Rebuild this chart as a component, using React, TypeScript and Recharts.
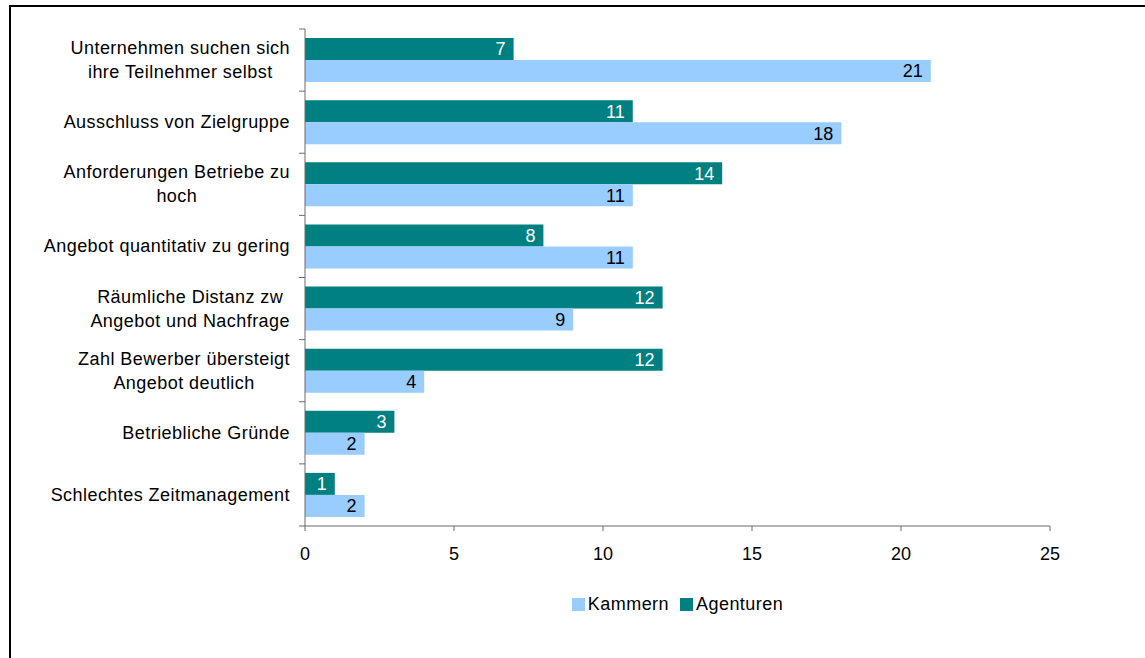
import React from "react";
import { BarChart, Bar, XAxis, YAxis, Legend, LabelList } from "recharts";

const categories = [
  "Unternehmen suchen sich\nihre Teilnehmer selbst",
  "Ausschluss von Zielgruppe",
  "Anforderungen Betriebe zu\nhoch",
  "Angebot quantitativ zu gering",
  "Räumliche Distanz zw\nAngebot und Nachfrage",
  "Zahl Bewerber übersteigt\nAngebot deutlich",
  "Betriebliche Gründe",
  "Schlechtes Zeitmanagement",
];
const agenturen = [7, 11, 14, 8, 12, 12, 3, 1];
const kammern = [21, 18, 11, 11, 9, 4, 2, 2];
const xTicks = [0, 5, 10, 15, 20, 25];

const FONT = "'Liberation Sans', Arial, sans-serif";
const FS = 18;
const LS = 0.45;
const AXIS = "#6b6b6b";
const TICK_GAP = 15;

const data = categories.map((c, i) => ({
  name: c,
  Agenturen: agenturen[i],
  Kammern: kammern[i],
}));

let ctx: CanvasRenderingContext2D | null = null;
function textWidth(s: string) {
  if (!ctx) ctx = document.createElement("canvas").getContext("2d");
  if (!ctx) return s.length * FS * 0.5;
  ctx.font = `${FS}px ${FONT}`;
  return ctx.measureText(s).width + s.length * LS;
}

// category label, centred block right-aligned to the axis, plus the
// small tick marks Excel puts between the categories
function CategoryTick(props: any) {
  const { x, y, payload, index } = props;
  const lines: string[] = String(payload.value).split("\n");
  const w = Math.max(...lines.map(textWidth));
  const cx = x - w / 2;
  const lh = 24;
  const first = -((lines.length - 1) * lh) / 2;
  const ax = x + TICK_GAP;
  const half = payload.offset || 0;
  return (
    <g>
      <line x1={ax - 6} x2={ax} y1={y - half} y2={y - half} stroke={AXIS} />
      {index === categories.length - 1 && (
        <line x1={ax - 6} x2={ax} y1={y + half} y2={y + half} stroke={AXIS} />
      )}
      <text
        x={cx}
        y={y}
        textAnchor="middle"
        fontFamily={FONT}
        fontSize={FS}
        letterSpacing={LS}
        fill="#000"
      >
        {lines.map((l, i) => (
          <tspan key={i} x={cx} y={y + first + i * lh} dominantBaseline="central">
            {l}
          </tspan>
        ))}
      </text>
    </g>
  );
}

function LegendContent(props: any) {
  const items = (props.payload || []).slice().reverse();
  return (
    <div
      style={{
        display: "flex",
        justifyContent: "center",
        alignItems: "center",
        height: 24,
        fontFamily: FONT,
        fontSize: FS,
        letterSpacing: LS,
        color: "#000",
      }}
    >
      {items.map((it: any, i: number) => (
        <div
          key={it.value}
          style={{ display: "flex", alignItems: "center", marginLeft: i ? 11 : 0 }}
        >
          <span
            style={{ width: 13, height: 13, background: it.color, marginRight: 3 }}
          />
          <span>{it.value}</span>
        </div>
      ))}
    </div>
  );
}

export default function App() {
  return (
    <div
      style={{
        position: "absolute",
        left: 0,
        top: 0,
        width: 1145,
        height: 658,
        background: "#fff",
        overflow: "hidden",
      }}
    >
      <div
        style={{
          position: "absolute",
          left: 9,
          top: 5,
          right: -10,
          bottom: -10,
          borderTop: "2px solid #000",
          borderLeft: "2px solid #000",
        }}
      />
      <div style={{ position: "absolute", left: 0, top: 0 }}>
        <BarChart
          width={1145}
          height={658}
          data={data}
          layout="vertical"
          barSize={22}
          barGap={0}
          margin={{ top: 29, right: 95, bottom: 42, left: 10 }}
        >
          <XAxis
            type="number"
            domain={[0, 25]}
            ticks={xTicks}
            interval={0}
            stroke={AXIS}
            tickSize={5}
            tickMargin={16}
            height={66}
            tick={{ fill: "#000", fontSize: FS, fontFamily: FONT }}
          />
          <YAxis
            type="category"
            dataKey="name"
            width={295}
            interval={0}
            tickLine={false}
            tickSize={0}
            tickMargin={TICK_GAP}
            stroke={AXIS}
            tick={<CategoryTick />}
          />
          <Legend
            verticalAlign="bottom"
            content={<LegendContent />}
            wrapperStyle={{ left: 305, width: 745 }}
          />
          <Bar dataKey="Agenturen" fill="#008080" isAnimationActive={false}>
            <LabelList
              dataKey="Agenturen"
              position="insideRight"
              offset={8}
              fill="#fff"
              fontSize={FS}
              fontFamily={FONT}
            />
          </Bar>
          <Bar dataKey="Kammern" fill="#99CCFF" isAnimationActive={false}>
            <LabelList
              dataKey="Kammern"
              position="insideRight"
              offset={8}
              fill="#000"
              fontSize={FS}
              fontFamily={FONT}
            />
          </Bar>
        </BarChart>
      </div>
    </div>
  );
}
